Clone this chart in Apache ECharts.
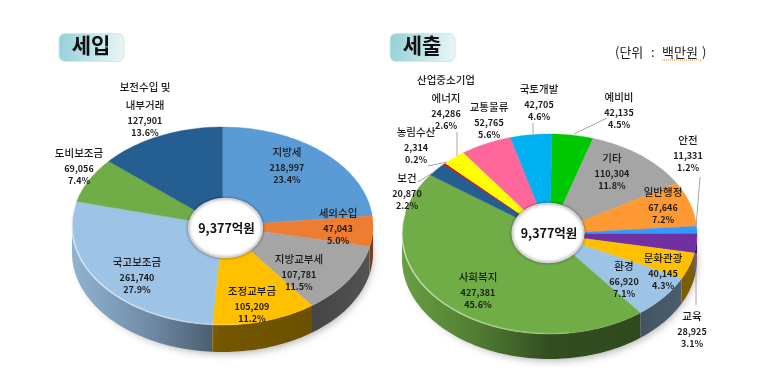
<!DOCTYPE html>
<html>
<head>
<meta charset="utf-8">
<script src="https://cdn.jsdelivr.net/npm/echarts@6/dist/echarts.min.js"></script>
<style>
  html, body { margin: 0; padding: 0; background: #fff; }
  #chart { width: 770px; height: 386px; }
</style>
</head>
<body>
<div id="chart"></div>
<script>
// 세입 (clockwise from 12 o'clock)
const inNames = ["지방세", "세외수입", "지방교부세", "조정교부금", "국고보조금", "도비보조금", "보전수입 및\n내부거래"];
const inValues = [218997, 47043, 107781, 105209, 261740, 69056, 127901];
const inPercents = [23.4, 5.0, 11.5, 11.2, 27.9, 7.4, 13.6];
const inColors = ["#5b9bd5", "#ed7d31", "#a5a5a5", "#ffc000", "#9dc3e6", "#70ad47", "#255e91"];

// 세출
const outNames = ["예비비", "기타", "일반행정", "안전", "교육", "문화관광", "환경", "사회복지", "보건", "농림수산", "산업중소기업\n에너지", "교통물류", "국토개발"];
const outValues = [42135, 110304, 67646, 11331, 28925, 40145, 66920, 427381, 20870, 2314, 24286, 52765, 42705];
const outPercents = [4.5, 11.8, 7.2, 1.2, 3.1, 4.3, 7.1, 45.6, 2.2, 0.2, 2.6, 5.6, 4.6];
const outColors = ["#00c800", "#a5a5a5", "#ff9933", "#3399ff", "#7030a0", "#ffc000", "#9dc3e6", "#70ad47", "#255e91", "#e00000", "#ffff00", "#ff6699", "#00b0f0"];

const totalLabel = "9,377억원";

// layout only
const inGeom = { cx: 222.5, cy: 226, rx: 150.5, ry: 99, depth: 27, rot: 0 };
const outGeom = { cx: 549.5, cy: 234, rx: 147.5, ry: 100, depth: 25, rot: 1 };
const inLabelPos = [[287, 152], [338, 213], [299, 259], [252, 291], [137, 262], [79, 153], [145, 87]];
const outLabelPos = [[619, 97], [612, 158], [663, 192], [688, 140], [692, 316], [663, 258], [624, 266], [478, 277], [407, 178], [416, 132], [446, 80], [489, 107], [539, 89]];
const outLeaders = [
  [[574, 134], [607, 118]],
  [[700, 177], [696, 227]],
  [[696, 253], [696, 305]],
  [[428, 166], [447, 162]],
  [[457, 132], [457, 156]],
  [[418, 182], [434, 172]],
  [[533, 123], [533, 134]]
];

const FONT = "'Noto Sans CJK KR', 'Noto Sans', sans-serif";

function shade(hex, f) {
  const n = parseInt(hex.slice(1), 16);
  const r = Math.round(((n >> 16) & 255) * f);
  const g = Math.round(((n >> 8) & 255) * f);
  const b = Math.round((n & 255) * f);
  return "rgb(" + r + "," + g + "," + b + ")";
}

function arcPoints(g, a0, a1, dy) {
  const pts = [];
  const steps = Math.max(2, Math.ceil(Math.abs(a1 - a0) / 1.5));
  for (let i = 0; i <= steps; i++) {
    const a = ((a0 + ((a1 - a0) * i) / steps) * Math.PI) / 180;
    pts.push([g.cx + g.rx * Math.sin(a), g.cy - g.ry * Math.cos(a) + (dy || 0)]);
  }
  return pts;
}

function sliceRange(values, idx, rot) {
  const total = values.reduce((s, v) => s + v, 0);
  let sum = 0;
  for (let i = 0; i < idx; i++) sum += values[i];
  return [(sum / total) * 360 + rot, ((sum + values[idx]) / total) * 360 + rot];
}

function wallSeries(values, colors, g) {
  return {
    type: "custom",
    coordinateSystem: "none",
    z: 2,
    silent: true,
    data: values.map((v) => [v]),
    renderItem: function (params) {
      const r = sliceRange(values, params.dataIndex, g.rot);
      const a0 = Math.max(r[0], 90);
      const a1 = Math.min(r[1], 270);
      if (a1 <= a0) return null;
      const c = colors[params.dataIndex];
      const points = arcPoints(g, a0, a1, 0).concat(arcPoints(g, a1, a0, g.depth));
      return {
        type: "polygon",
        shape: { points: points },
        style: {
          fill: new echarts.graphic.LinearGradient(g.cx - g.rx, 0, g.cx + g.rx, 0, [
            { offset: 0, color: shade(c, 0.92) },
            { offset: 0.25, color: shade(c, 0.72) },
            { offset: 0.5, color: shade(c, 0.45) },
            { offset: 0.8, color: shade(c, 0.42) },
            { offset: 1, color: shade(c, 0.5) }
          ], true),
          lineWidth: 0
        }
      };
    }
  };
}

function topSeries(values, colors, g) {
  return {
    type: "custom",
    coordinateSystem: "none",
    z: 3,
    silent: true,
    data: values.map((v) => [v]),
    renderItem: function (params) {
      const r = sliceRange(values, params.dataIndex, g.rot);
      const c = colors[params.dataIndex];
      return {
        type: "polygon",
        shape: { points: [[g.cx, g.cy]].concat(arcPoints(g, r[0], r[1], 0)) },
        style: { fill: c, stroke: c, lineWidth: 0.4 }
      };
    }
  };
}

function labelSeries(values, names, percents, pos) {
  return {
    type: "custom",
    coordinateSystem: "none",
    z: 6,
    silent: true,
    data: values.map((v) => [v]),
    renderItem: function (params) {
      const i = params.dataIndex;
      const x = pos[i][0];
      let y = pos[i][1];
      const children = [];
      names[i].split("\n").forEach(function (line, k) {
        if (k > 0) y += 18;
        children.push({
          type: "text",
          style: { x: x, y: y, text: line, align: "center", verticalAlign: "middle", fill: "#1c1c1c", font: "500 10.5px " + FONT }
        });
      });
      children.push({
        type: "text",
        style: { x: x, y: y + 15.5, text: values[i].toLocaleString("en-US"), align: "center", verticalAlign: "middle", fill: "#1c1c1c", font: "700 9px " + FONT }
      });
      children.push({
        type: "text",
        style: { x: x, y: y + 28, text: percents[i].toFixed(1) + "%", align: "center", verticalAlign: "middle", fill: "#1c1c1c", font: "700 9px " + FONT }
      });
      return { type: "group", children: children };
    }
  };
}

function decor(g, hole, titleX, title) {
  const rimColor = new echarts.graphic.LinearGradient(g.cx - g.rx, 0, g.cx + g.rx, 0, [
    { offset: 0, color: "rgba(255,255,255,0.55)" },
    { offset: 0.5, color: "rgba(255,255,255,0.22)" },
    { offset: 0.75, color: "rgba(255,255,255,0.0)" }
  ], true);
  return [
    {
      type: "ellipse", z: 1, silent: true,
      shape: { cx: g.cx + 3, cy: g.cy + g.depth - 1, rx: g.rx - 4, ry: g.ry - 1 },
      style: { fill: "#fff", shadowBlur: 9, shadowColor: "rgba(0,0,0,0.35)", shadowOffsetY: 3 }
    },
    {
      type: "polyline", z: 4, silent: true,
      shape: { points: arcPoints(g, 172, 282, -0.5) },
      style: { fill: null, stroke: rimColor, lineWidth: 1.6 }
    },
    {
      type: "ellipse", z: 5, silent: true,
      shape: { cx: hole.x, cy: hole.y, rx: hole.rx, ry: hole.ry },
      style: { fill: "#fff", stroke: "#d4d4d4", lineWidth: 1.4, shadowBlur: 3, shadowColor: "rgba(0,0,0,0.4)" }
    },
    {
      type: "text", z: 6, silent: true,
      style: { x: hole.x + 1, y: hole.y, text: totalLabel, align: "center", verticalAlign: "middle", fill: "#111", font: "700 12.5px " + FONT }
    },
    {
      type: "rect", z: 6, silent: true,
      shape: { x: titleX, y: 33.5, width: 65, height: 28, r: 6 },
      style: {
        fill: new echarts.graphic.LinearGradient(0, 0, 1, 0.25, [
          { offset: 0, color: "#93d0d6" },
          { offset: 1, color: "#e8f6f7" }
        ]),
        stroke: "#cfe9ec", lineWidth: 1
      }
    },
    {
      type: "text", z: 7, silent: true,
      style: { x: titleX + 32, y: 45, text: title, align: "center", verticalAlign: "middle", fill: "#111", font: "700 21px " + FONT }
    }
  ];
}

const myChart = echarts.init(document.getElementById("chart"), null, { renderer: "canvas" });

const leaderLines = outLeaders.map(function (l) {
  return {
    type: "line", z: 5, silent: true,
    shape: { x1: l[0][0], y1: l[0][1], x2: l[1][0], y2: l[1][1] },
    style: { stroke: "#a6a6a6", lineWidth: 1 }
  };
});

const unitParts = [
  { type: "text", z: 6, silent: true, style: { x: 615, y: 52, text: "(단위", align: "left", verticalAlign: "middle", fill: "#222", font: "13px " + FONT } },
  { type: "text", z: 6, silent: true, style: { x: 651, y: 52, text: ":", align: "left", verticalAlign: "middle", fill: "#222", font: "13px " + FONT } },
  { type: "text", z: 6, silent: true, style: { x: 662, y: 52, text: "백만원", align: "left", verticalAlign: "middle", fill: "#222", font: "13px " + FONT } },
  { type: "text", z: 6, silent: true, style: { x: 702, y: 52, text: ")", align: "left", verticalAlign: "middle", fill: "#222", font: "13px " + FONT } },
  { type: "line", z: 6, silent: true, shape: { x1: 662, y1: 60, x2: 702, y2: 60 }, style: { stroke: "#e08a1e", lineWidth: 1, lineDash: [1, 1] } }
];

const option = {
  backgroundColor: "#ffffff",
  animation: false,
  graphic: {
    elements: decor(inGeom, { x: 225.5, y: 228, rx: 37, ry: 29.5 }, 59, "세입")
      .concat(decor(outGeom, { x: 548, y: 233, rx: 36, ry: 29.5 }, 390, "세출"))
      .concat(leaderLines)
      .concat(unitParts)
  },
  series: [
    wallSeries(inValues, inColors, inGeom),
    topSeries(inValues, inColors, inGeom),
    labelSeries(inValues, inNames, inPercents, inLabelPos),
    wallSeries(outValues, outColors, outGeom),
    topSeries(outValues, outColors, outGeom),
    labelSeries(outValues, outNames, outPercents, outLabelPos)
  ]
};

myChart.setOption(option);
</script>
</body>
</html>
